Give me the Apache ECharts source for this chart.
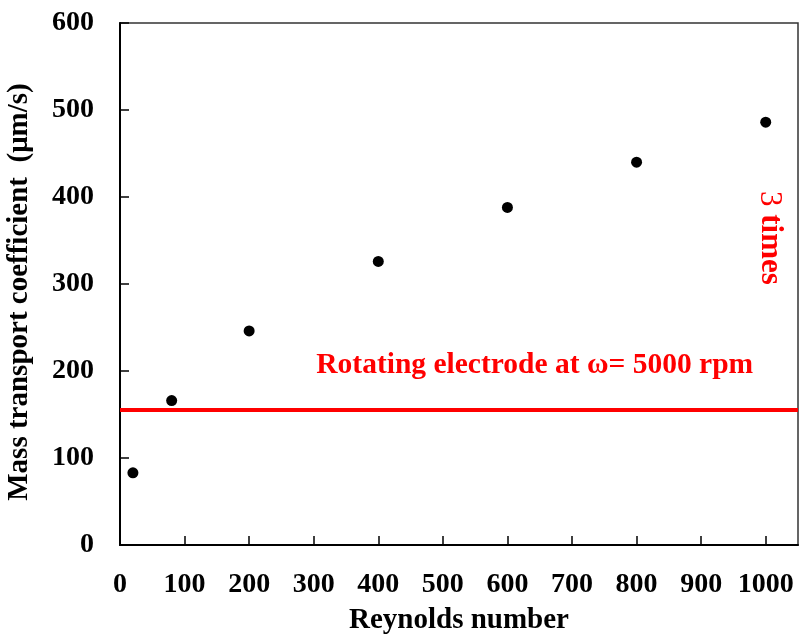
<!DOCTYPE html>
<html>
<head>
<meta charset="utf-8">
<script src="https://cdn.jsdelivr.net/npm/echarts@6/dist/echarts.min.js"></script>
<style>
  html, body { margin: 0; padding: 0; background: #fff; }
  #main { width: 799px; height: 634px; }
</style>
</head>
<body>
<div id="main"></div>
<script>
// data
var reynolds = [20, 80, 200, 400, 600, 800, 1000];
var massTransport = [83, 166, 246, 326, 388, 440, 486];
var rotatingLevel = 155; // rotating electrode at 5000 rpm
var xTicks = [0, 100, 200, 300, 400, 500, 600, 700, 800, 900, 1000];
var yTicks = [0, 100, 200, 300, 400, 500, 600];

var font = 'Liberation Serif';

var chart = echarts.init(document.getElementById('main'), null, { renderer: 'canvas' });

var option = {
  backgroundColor: '#ffffff',
  animation: false,
  grid: {
    left: 120,
    top: 23,
    right: 1,
    bottom: 89,
    containLabel: false,
    outerBoundsMode: 'none',
    show: true,
    borderColor: '#333',
    borderWidth: 1.5
  },
  xAxis: {
    type: 'value',
    min: 0,
    max: 1050,
    interval: 100,
    name: 'Reynolds number',
    nameLocation: 'middle',
    nameGap: 61,
    nameTextStyle: { fontFamily: font, fontWeight: 'bold', fontSize: 29, color: '#000' },
    axisLine: { lineStyle: { color: '#000', width: 2 } },
    axisTick: { inside: true, length: 9, customValues: xTicks, lineStyle: { color: '#000', width: 1.5 } },
    axisLabel: {
      customValues: xTicks,
      margin: 26,
      formatter: function (v) { return String(v); },
      fontFamily: font, fontWeight: 'bold', fontSize: 28, color: '#000'
    },
    splitLine: { show: false }
  },
  yAxis: {
    type: 'value',
    min: 0,
    max: 600,
    interval: 100,
    name: 'Mass transport coefficient  (\u03bcm/s)',
    nameLocation: 'middle',
    nameGap: 86,
    nameTextStyle: {
      fontFamily: font, fontWeight: 'bold', fontSize: 29, color: '#000',
      padding: [0, 16, 0, 0]
    },
    axisLine: { lineStyle: { color: '#000', width: 2 } },
    axisTick: { inside: true, length: 9, customValues: yTicks, lineStyle: { color: '#000', width: 1.5 } },
    axisLabel: {
      customValues: yTicks,
      margin: 26,
      formatter: function (v) { return String(v); },
      fontFamily: font, fontWeight: 'bold', fontSize: 28, color: '#000'
    },
    splitLine: { show: false }
  },
  series: [{
    type: 'scatter',
    symbol: 'circle',
    symbolSize: 11,
    itemStyle: { color: '#000', opacity: 1 },
    data: reynolds.map(function (x, i) { return [x, massTransport[i]]; }),
    markLine: {
      silent: true,
      symbol: 'none',
      label: { show: false },
      lineStyle: { color: '#ff0000', width: 4, type: 'solid', opacity: 1 },
      data: [{ yAxis: rotatingLevel }]
    }
  }]
};

chart.setOption(option);

// annotations anchored in data coordinates
var noteA = chart.convertToPixel({ gridIndex: 0 }, [304, 207]);
var noteB = chart.convertToPixel({ gridIndex: 0 }, [1006, 353]);

chart.setOption({
  graphic: [{
    type: 'text',
    x: noteA[0],
    y: noteA[1],
    style: {
      text: 'Rotating electrode at \u03c9= 5000 rpm',
      fill: '#ff0000',
      font: 'bold 29.5px "' + font + '"',
      textAlign: 'left',
      textVerticalAlign: 'middle'
    }
  }, {
    type: 'text',
    x: noteB[0],
    y: noteB[1],
    rotation: -Math.PI / 2,
    style: {
      text: '{a|3} {b|times}',
      fill: '#ff0000',
      textAlign: 'center',
      textVerticalAlign: 'middle',
      rich: {
        a: { fontFamily: font, fontSize: 31, fontWeight: 'normal', fill: '#ff0000' },
        b: { fontFamily: font, fontSize: 31, fontWeight: 'bold', fill: '#ff0000' }
      },
      font: 'bold 31px "' + font + '"'
    }
  }]
});
</script>
</body>
</html>
